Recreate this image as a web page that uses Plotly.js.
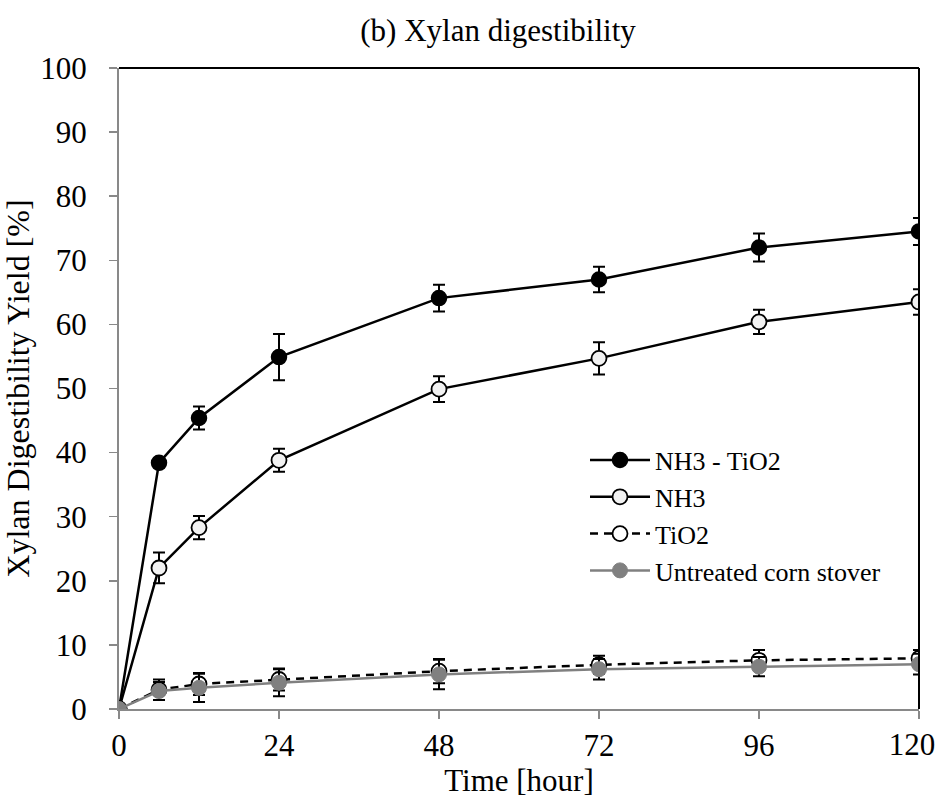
<!DOCTYPE html>
<html>
<head>
<meta charset="utf-8">
<script src="https://cdn.plot.ly/plotly-3.0.1.min.js"></script>
<style>html,body{margin:0;padding:0;background:#fff;}#chart{width:937px;height:798px;}</style>
</head>
<body>
<div id="chart"></div>
<script>
const timeHours = [0, 6, 12, 24, 48, 72, 96, 120];
const nh3Tio2 = [0, 38.4, 45.4, 54.9, 64.1, 67.0, 72.0, 74.5];
const nh3Tio2Err = [0, 0.5, 1.8, 3.6, 2.1, 2.0, 2.2, 2.1];
const nh3 = [0, 22.0, 28.3, 38.8, 49.9, 54.7, 60.4, 63.5];
const nh3Err = [0, 2.4, 1.8, 1.8, 2.0, 2.5, 1.9, 2.0];
const tio2 = [0, 3.0, 3.9, 4.6, 5.9, 6.9, 7.6, 7.9];
const tio2Err = [0, 1.6, 1.7, 1.7, 1.9, 1.4, 1.6, 1.3];
const untreated = [0, 2.8, 3.3, 4.1, 5.4, 6.2, 6.6, 7.0];
const untreatedErr = [0, 1.4, 2.2, 2.1, 2.3, 1.6, 1.5, 1.6];
const seriesNames = ["NH3 - TiO2", "NH3", "TiO2", "Untreated corn stover"];
const xTicks = [0, 24, 48, 72, 96, 120];
const yTicks = [0, 10, 20, 30, 40, 50, 60, 70, 80, 90, 100];

const font = "'Liberation Serif', 'Times New Roman', serif";
function errStyle(arr) {
  return {type: 'data', array: arr, visible: true, color: '#000', thickness: 2, width: 6};
}
const lastTick = xTicks[xTicks.length - 1];
const mainTickText = xTicks.map(v => v === lastTick ? '' : String(v));

const traces = [
  {x: [lastTick], y: [null], xaxis: 'x2', yaxis: 'y', mode: 'markers', type: 'scatter',
   showlegend: false, hoverinfo: 'skip', marker: {opacity: 0}},
  {x: timeHours, y: nh3Tio2, name: seriesNames[0], mode: 'lines+markers', type: 'scatter',
   line: {color: '#000', width: 2.5},
   marker: {size: 15, color: '#000', line: {color: '#000', width: 1.5}},
   error_y: errStyle(nh3Tio2Err)},
  {x: timeHours, y: nh3, name: seriesNames[1], mode: 'lines+markers', type: 'scatter',
   line: {color: '#000', width: 2.5},
   marker: {size: 15, color: '#f2f2f2', line: {color: '#000', width: 1.8}},
   error_y: errStyle(nh3Err)},
  {x: timeHours, y: tio2, name: seriesNames[2], mode: 'lines+markers', type: 'scatter',
   line: {color: '#000', width: 2.5, dash: '8px,6px'},
   marker: {size: 15, color: '#fff', line: {color: '#000', width: 1.8}},
   error_y: errStyle(tio2Err)},
  {x: timeHours, y: untreated, name: seriesNames[3], mode: 'lines+markers', type: 'scatter',
   line: {color: '#808080', width: 2.5},
   marker: {size: 15, color: '#808080', line: {color: '#808080', width: 1}},
   error_y: errStyle(untreatedErr)}
];

const layout = {
  width: 937, height: 798,
  paper_bgcolor: '#fff', plot_bgcolor: '#fff',
  margin: {l: 119, r: 18, t: 68, b: 89},
  font: {family: font, color: '#000', size: 31},
  title: {text: '(b) Xylan digestibility', font: {family: font, size: 31, color: '#000'},
          x: 0.5315, xref: 'container', xanchor: 'center', y: 0.962, yref: 'container', yanchor: 'middle'},
  showlegend: true,
  legend: {x: 0.5825, y: 0.425, xanchor: 'left', yanchor: 'top', bgcolor: 'rgba(0,0,0,0)',
           font: {family: font, size: 26, color: '#000'}, tracegroupgap: 0, itemwidth: 60},
  xaxis: {range: [0, 120], tickvals: xTicks, ticktext: mainTickText, automargin: false,
          showgrid: false, zeroline: false, showline: true, linecolor: '#898989', linewidth: 2,
          ticks: 'outside', ticklen: 8, tickcolor: '#898989', tickwidth: 1.5, ticklabelstandoff: 0,
          tickfont: {family: font, size: 31, color: '#000'},
          title: {text: 'Time [hour]', font: {family: font, size: 31, color: '#000'}, standoff: 15}},
  xaxis2: {range: [0, 120], overlaying: 'x', anchor: 'y', side: 'bottom', automargin: false,
          tickmode: 'array', tickvals: [lastTick], ticktext: [String(lastTick)], ticklabelshift: -7,
          ticklabeloverflow: 'allow', showticklabels: true,
          showgrid: false, zeroline: false, showline: false, ticks: 'outside', ticklen: 8,
          tickcolor: 'rgba(0,0,0,0)', ticklabelstandoff: 0,
          tickfont: {family: font, size: 31, color: '#000'}},
  yaxis: {range: [0, 100], tickvals: yTicks, ticktext: yTicks.map(String), automargin: false,
          showgrid: false, zeroline: false, showline: true, linecolor: '#898989', linewidth: 2,
          ticks: 'outside', ticklen: 8, tickcolor: '#898989', tickwidth: 1.5, ticklabelstandoff: 16,
          ticklabeloverflow: 'allow',
          tickfont: {family: font, size: 31, color: '#000'},
          title: {text: 'Xylan Digestibility Yield [%]', font: {family: font, size: 32, color: '#000'}, standoff: 3}},
  shapes: [
    {type: 'line', xref: 'paper', yref: 'paper', x0: 0, x1: 1, y0: 1, y1: 1, line: {color: '#000', width: 2}},
    {type: 'line', xref: 'paper', yref: 'paper', x0: 1, x1: 1, y0: 0, y1: 1, line: {color: '#000', width: 2}}
  ]
};
Plotly.newPlot('chart', traces, layout, {displayModeBar: false, staticPlot: true});
</script>
</body>
</html>
